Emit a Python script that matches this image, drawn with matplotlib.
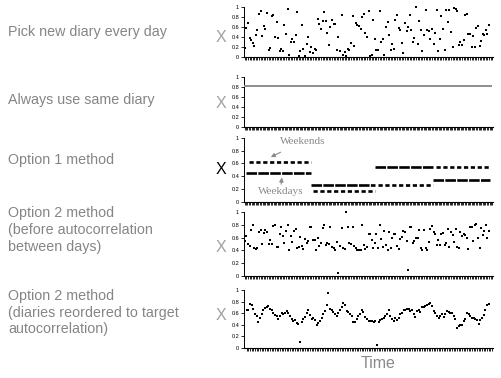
import matplotlib.pyplot as plt
import numpy as np

# ---- data ----
row_labels = ['Pick new diary every day',
              'Always use same diary',
              'Option 1 method',
              'Option 2 method\n(before autocorrelation\nbetween days)',
              'Option 2 method\n(diaries reordered to target\nautocorrelation)']

new_diary = [0.18, 0.58, 0.68, 0.38, 0.35, 0.28, 0.22, 0.44, 0.55, 0.87, 0.93, 0.43, 0.62, 0.57,
             0.88, 0.14, 0.18, 0.82, 0.85, 0.40, 0.70, 0.39, 0.13, 0.17, 0.13, 0.65, 0.47, 0.96,
             0.05, 0.31, 0.36, 0.31, 0.44, 0.91, 0.02, 0.12, 0.64, 0.17, 0.02, 0.26, 0.41, 0.10,
             0.20, 0.08, 0.16, 0.14, 0.76, 0.66, 0.56, 0.73, 0.90, 0.73, 0.48, 0.24, 0.60, 0.75,
             0.67, 0.67, 0.15, 0.41, 0.13, 0.84, 0.04, 0.10, 0.03, 0.17, 0.15, 0.28, 0.82, 0.22,
             0.69, 0.64, 0.62, 0.57, 0.80, 0.86, 0.48, 0.41, 0.92, 0.03, 0.04, 0.75, 0.36, 0.15,
             0.15, 0.93, 0.31, 0.37, 0.04, 0.61, 0.70, 0.45, 0.15, 0.26, 0.17, 0.74, 0.84, 0.59,
             0.54, 0.28, 0.09, 0.69, 0.52, 0.61, 0.84, 0.55, 0.31, 0.38, 1.00, 0.27, 0.73, 0.55,
             0.12, 0.45, 0.94, 0.55, 0.52, 0.36, 0.56, 0.27, 0.49, 0.94, 0.12, 0.37, 0.82, 0.57,
             0.14, 0.95, 0.71, 0.95, 0.51, 0.20, 0.98, 0.96, 0.93, 0.25, 0.30, 0.24, 0.34, 0.85,
             0.86, 0.47, 0.46, 0.20, 0.43, 0.21, 0.58, 0.63, 0.23, 0.32, 0.46, 0.45, 0.55, 0.46,
             0.64]

same_diary_value = 0.82
n_days = 180

# option 1: four blocks, one weekday and one weekend diary each
block_edges = [1, 48, 95, 137, 178]
weekday_level = [0.45, 0.26, 0.54, 0.34]
weekend_level = [0.63, 0.17, 0.26, 0.54]

before_autocorr = [0.55, 0.63, 0.50, 0.47, 0.72, 0.79, 0.44, 0.42, 0.44, 0.69, 0.72, 0.50, 0.67,
                   0.72, 0.68, 0.50, 0.56, 0.50, 0.78, 0.80, 0.46, 0.46, 0.65, 0.76, 0.62, 0.52,
                   0.70, 0.80, 0.41, 0.62, 0.53, 0.71, 0.74, 0.44, 0.45, 0.61, 0.47, 0.42, 0.58,
                   0.52, 0.55, 0.77, 0.77, 0.57, 0.57, 0.41, 0.59, 0.47, 0.52, 0.75, 0.79, 0.48,
                   0.51, 0.50, 0.76, 0.46, 0.44, 0.41, 0.53, 0.05, 0.47, 0.75, 0.43, 0.42, 1.00,
                   0.76, 0.52, 0.50, 0.76, 0.47, 0.44, 0.41, 0.40, 0.41, 0.80, 0.49, 0.42, 0.45,
                   0.66, 0.66, 0.57, 0.44, 0.52, 0.66, 0.44, 0.80, 0.58, 0.45, 0.71, 0.48, 0.41,
                   0.69, 0.43, 0.60, 0.65, 0.65, 0.47, 0.42, 0.58, 0.61, 0.70, 0.68, 0.55, 0.10,
                   0.77, 0.77, 0.52, 0.54, 0.60, 0.60, 0.72, 0.44, 0.41, 0.72, 0.43, 0.41, 0.53,
                   0.74, 0.78, 0.68, 0.65, 0.48, 0.57, 0.49, 0.66, 0.67, 0.48, 0.51, 0.74, 0.46,
                   0.69, 0.64, 0.53, 0.73, 0.45, 0.44, 0.68, 0.62, 0.66, 0.64, 0.60, 0.42, 0.76,
                   0.77, 0.55, 0.80, 0.81, 0.60, 0.43, 0.75, 0.64, 0.70, 0.79, 0.60, 0.70]

reordered = [0.65, 0.66, 0.76, 0.74, 0.67, 0.59, 0.55, 0.45, 0.52, 0.58, 0.65, 0.69, 0.70, 0.72,
             0.68, 0.66, 0.61, 0.57, 0.55, 0.50, 0.55, 0.60, 0.58, 0.61, 0.64, 0.60, 0.55, 0.50,
             0.47, 0.49, 0.43, 0.41, 0.10, 0.45, 0.50, 0.53, 0.60, 0.66, 0.57, 0.50, 0.52, 0.48,
             0.40, 0.43, 0.46, 0.52, 0.58, 0.64, 0.75, 0.95, 0.68, 0.66, 0.62, 0.58, 0.55, 0.60,
             0.65, 0.70, 0.78, 0.75, 0.64, 0.62, 0.58, 0.55, 0.45, 0.45, 0.50, 0.56, 0.58, 0.66,
             0.62, 0.54, 0.50, 0.47, 0.47, 0.46, 0.45, 0.47, 0.05, 0.45, 0.48, 0.50, 0.52, 0.55,
             0.58, 0.65, 0.56, 0.50, 0.47, 0.52, 0.48, 0.51, 0.58, 0.60, 0.66, 0.65, 0.67, 0.67,
             0.64, 0.66, 0.58, 0.53, 0.63, 0.66, 0.62, 0.70, 0.70, 0.72, 0.75, 0.76, 0.78, 0.73,
             0.63, 0.60, 0.56, 0.52, 0.55, 0.58, 0.54, 0.58, 0.64, 0.62, 0.60, 0.60, 0.55, 0.50,
             0.35, 0.38, 0.40, 0.40, 0.46, 0.50, 0.60, 0.58, 0.55, 0.52, 0.52, 0.50, 0.48, 0.42,
             0.48, 0.52, 0.57, 0.66, 0.75, 0.76]

yticks = [0, 0.2, 0.4, 0.6, 0.8, 1]
ytick_labels = ['0', '0.2', '0.4', '0.6', '0.8', '1']

plt.rcParams['font.family'] = ['Liberation Sans', 'DejaVu Sans']

fig = plt.figure(figsize=(5.01, 3.78), dpi=100)
W, H = 501, 378

# axes boxes in pixels: (top, bottom)
boxes = [(7, 57), (77, 127), (138, 201.7), (212, 276), (290, 348)]
x_left, x_right = 244, 493
x_label_y = [37, 103, 169, 247, 315]
text_y = [32, 100, 160, 206, 289]

axes = []
for (top, bot) in boxes:
    ax = fig.add_axes([x_left / W, 1 - bot / H, (x_right - x_left) / W, (bot - top) / H])
    ax.set_ylim(0, 1)
    ax.set_yticks(yticks)
    ax.set_yticklabels(ytick_labels)
    ax.tick_params(axis='y', labelsize=4, length=2, width=0.6, pad=1.5)
    ax.tick_params(axis='x', length=1.8, width=0.6, labelbottom=False)
    for s in ['top', 'right']:
        ax.spines[s].set_visible(False)
    ax.spines['left'].set_linewidth(0.7)
    ax.spines['bottom'].set_linewidth(0.8)
    axes.append(ax)

gray = '#8a8a8a'
mk = dict(marker='s', s=3.2, color='black', linewidths=0, clip_on=False, zorder=3)

# 1. pick new diary every day
ax = axes[0]
x = np.arange(len(new_diary))
ax.scatter(x, new_diary, **mk)
ax.set_xlim(-0.5, len(new_diary) + 1.5)
ax.set_xticks(np.arange(0, len(new_diary) + 2))

# 2. always same diary
ax = axes[1]
x = np.arange(n_days)
ax.scatter(x, [same_diary_value] * n_days, marker='s', s=0.9, color='#909090',
           linewidths=0, zorder=3)
ax.set_xlim(-0.5, n_days + 0.5)
ax.set_xticks(np.arange(0, n_days + 1))

# 3. option 1 method
ax = axes[2]
for i in range(len(weekday_level)):
    ax.hlines(weekday_level[i], block_edges[i], block_edges[i + 1], color='black',
              lw=1.9, linestyles=(0, (4, 0.5)))
    ax.hlines(weekend_level[i], block_edges[i] + 2, block_edges[i + 1], color='black',
              lw=1.9, linestyles=(0, (1.6, 1.0)))
ax.set_xlim(-0.5, n_days + 0.5)
ax.set_xticks(np.arange(0, n_days + 1))
ax.annotate('Weekends', xy=(19, 0.70), xytext=(42, 0.95), fontsize=8,
            family='Liberation Serif', color=gray, ha='center', va='center',
            arrowprops=dict(arrowstyle='-|>', color=gray, lw=0.8, mutation_scale=6,
                            shrinkA=6, shrinkB=0))
ax.annotate('Weekdays', xy=(27, 0.38), xytext=(26, 0.16), fontsize=8,
            family='Liberation Serif', color=gray, ha='center', va='center',
            arrowprops=dict(arrowstyle='-|>', color=gray, lw=0.8, mutation_scale=6,
                            shrinkA=6, shrinkB=0))

# 4. option 2 before autocorrelation
ax = axes[3]
x = np.arange(len(before_autocorr))
ax.scatter(x, before_autocorr, **mk)
ax.set_xlim(-0.5, len(before_autocorr) + 1.5)
ax.set_xticks(np.arange(0, len(before_autocorr) + 2))

# 5. option 2 reordered
ax = axes[4]
x = np.arange(len(reordered))
ax.scatter(x, reordered, **mk)
ax.set_xlim(-1.5, len(reordered) + 1.5)
ax.set_xticks(np.arange(0, len(reordered) + 2))

# "X" labels and row descriptions
for i, yy in enumerate(x_label_y):
    fig.text(221 / W, 1 - yy / H, 'X', fontsize=11.5, ha='center', va='center',
             color='black' if i == 2 else '#a0a0a0')
for lab, yy in zip(row_labels, text_y):
    fig.text(8 / W, 1 - yy / H, lab, fontsize=10.3, ha='left',
             va='center' if '\n' not in lab else 'top', color='#858585',
             linespacing=1.25)

fig.text(378 / W, 1 - 364 / H, 'Time', fontsize=11.5, ha='center', va='center',
         color='#8a8a8a')

plt.savefig('out.png', dpi=100)
